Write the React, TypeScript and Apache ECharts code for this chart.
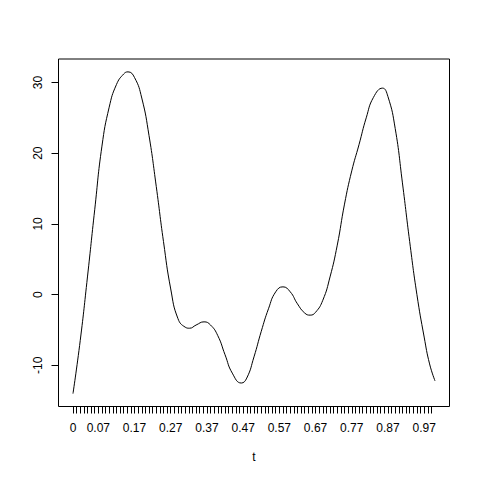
import React, { useEffect, useRef } from "react";
import * as echarts from "echarts";

const tValues = [
  0, 0.02, 0.04, 0.06, 0.08, 0.1, 0.12, 0.14, 0.152, 0.17,
  0.19, 0.21, 0.23, 0.25, 0.27, 0.29, 0.31, 0.322, 0.34, 0.362,
  0.38, 0.4, 0.42, 0.44, 0.465, 0.48, 0.5, 0.52, 0.54, 0.56,
  0.58, 0.6, 0.62, 0.64, 0.655, 0.67, 0.69, 0.71, 0.73, 0.75,
  0.77, 0.79, 0.81, 0.83, 0.855, 0.87, 0.89, 0.91, 0.93, 0.95,
  0.97, 0.985, 1,
];

const yValues = [
  -14.0, -6.5, 2.5, 12.0, 21.0, 26.5, 29.7, 31.2, 31.5, 30.7,
  27.8, 22.5, 15.3, 7.5, 0.8, -3.4, -4.6, -4.75, -4.3, -3.85,
  -4.3, -5.8, -8.5, -11.1, -12.5, -11.8, -8.8, -5.2, -2.0, 0.4,
  1.1, 0.4, -1.3, -2.6, -2.9, -2.5, -0.8, 2.5, 7.0, 12.8,
  17.5, 21.2, 25.0, 27.9, 29.2, 28.0, 23.5, 15.8, 7.5, 0.0,
  -6.0, -9.8, -12.2,
];

const xTickValues = Array.from({ length: 100 }, (_, i) => i / 100);
const xLabelValues = [0, 0.07, 0.17, 0.27, 0.37, 0.47, 0.57, 0.67, 0.77, 0.87, 0.97];
const yTickValues = [-10, 0, 10, 20, 30];

const FONT = "'Liberation Sans', Arial, Helvetica, sans-serif";

export default function App() {
  const ref = useRef<HTMLDivElement>(null);
  useEffect(() => {
    if (!ref.current) return;
    const chart = echarts.init(ref.current, null, { renderer: "svg" });
    const yMin = Math.min(...yValues);
    const yMax = Math.max(...yValues);
    const pad = (yMax - yMin) * 0.04;
    chart.setOption({
      animation: false,
      backgroundColor: "#fff",
      grid: {
        left: 58.5,
        top: 59,
        width: 391,
        height: 347.5,
        show: true,
        borderColor: "#000",
        borderWidth: 1,
        backgroundColor: "transparent",
      },
      xAxis: {
        type: "value",
        min: -0.04,
        max: 1.04,
        splitLine: { show: false },
        axisLine: { show: false, onZero: false },
        axisTick: {
          show: true,
          length: 7,
          customValues: xTickValues,
          lineStyle: { color: "#000", width: 1 },
        },
        axisLabel: {
          customValues: xLabelValues,
          formatter: (v: number) => String(v),
          color: "#000",
          fontSize: 12,
          fontFamily: FONT,
          margin: 15,
        },
      },
      yAxis: {
        type: "value",
        min: yMin - pad,
        max: yMax + pad,
        splitLine: { show: false },
        axisLine: { show: false, onZero: false },
        axisTick: {
          show: true,
          length: 7,
          customValues: yTickValues,
          lineStyle: { color: "#000", width: 1 },
        },
        axisLabel: {
          customValues: yTickValues,
          rotate: 90,
          color: "#000",
          fontSize: 12,
          fontFamily: FONT,
          margin: 15,
        },
      },
      graphic: [
        {
          type: "text",
          x: 254,
          y: 457,
          style: {
            text: "t",
            fontSize: 12,
            fontFamily: FONT,
            fill: "#000",
            align: "center",
            verticalAlign: "middle",
          },
        },
      ],
      series: [
        {
          type: "line",
          data: tValues.map((t, i) => [t, yValues[i]]),
          showSymbol: false,
          smooth: true,
          lineStyle: { color: "#000", width: 1 },
        },
      ],
    });
    return () => chart.dispose();
  }, []);
  return (
    <div
      ref={ref}
      style={{ position: "fixed", left: 0, top: 0, width: 480, height: 480 }}
    />
  );
}
